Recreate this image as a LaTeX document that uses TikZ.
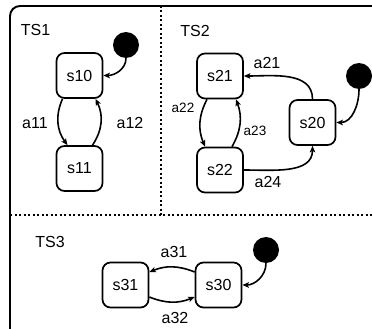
\documentclass[tikz,border=0pt]{standalone}
\usepackage{fontspec}
\setmainfont{Liberation Sans}
\usetikzlibrary{arrows.meta}
\begin{document}
\begin{tikzpicture}[x=1pt,y=-1pt,
  state/.style={draw,line width=1.7pt,rounded corners=8pt,minimum width=46pt,minimum height=45pt,inner sep=0pt,font=\fontsize{16}{19}\selectfont},
  initdot/.style={circle,fill=black,minimum size=26pt,inner sep=0pt},
  lbl/.style={font=\fontsize{16}{19}\selectfont,inner sep=0pt},
  slbl/.style={font=\fontsize{13.5}{16}\selectfont,inner sep=0pt},
  trans/.style={line width=1.6pt,-{Stealth[length=6.5pt,width=5.5pt,inset=1.5pt]}},
  sep/.style={line width=2pt,dash pattern=on 2pt off 2.5pt}]
\useasboundingbox (0,0) rectangle (372,329);
\clip (0,0) rectangle (372,329);
\fill[white] (0,0) rectangle (372,329);
% outer frame
\draw[line width=1.9pt,rounded corners=10pt] (10,6) rectangle (385,342);
% separators
\coordinate (vt) at (161,6);
\coordinate (vb) at (161,215);
\coordinate (hl) at (10,215);
\coordinate (hr) at (372,215);
\draw[sep] (vt) -- (vb);
\draw[sep] (hl) -- (hr);
% labels of regions
\node[lbl] (ts1) at (35.5,30) {TS1};
\node[lbl] (ts2) at (195,31) {TS2};
\node[lbl] (ts3) at (50,242) {TS3};
% TS1
\node[state] (s10) at (79.5,75.5) {s10};
\node[state] (s11) at (79.5,168.5) {s11};
\node[initdot] (d1) at (126,45) {};
\draw[trans] (d1.south) to[out=-90,in=0] (s10.east);
\draw[trans] ([xshift=-17pt]s10.south) to[bend right=30] ([xshift=-12pt]s11.north);
\draw[trans] ([xshift=13pt]s11.north) to[bend right=30] ([xshift=16pt]s10.south);
\node[lbl] (a11) at (35,123) {a11};
\node[lbl] (a12) at (130,123) {a12};
% TS2
\node[state] (s21) at (220,76) {s21};
\node[state] (s22) at (220,170) {s22};
\node[state] (s20) at (312.5,122.5) {s20};
\node[initdot] (d2) at (359,76) {};
\draw[trans] (d2.south) to[out=-90,in=0] (s20.east);
\draw[trans] (s20.north) to[out=90,in=0] (s21.east);
\draw[trans] (s22.east) to[out=0,in=-90] (s20.south);
\draw[trans] ([xshift=-13pt]s21.south) to[bend right=25] ([xshift=-15pt]s22.north);
\draw[trans] ([xshift=12pt]s22.north) to[bend right=25] ([xshift=16pt]s21.south);
\node[lbl] (a21) at (267,63) {a21};
\node[slbl] (a22) at (183,108) {a22};
\node[slbl] (a23) at (255,131) {a23};
\node[lbl] (a24) at (268,182) {a24};
% TS3
\node[state] (s31) at (125.5,285) {s31};
\node[state] (s30) at (218.5,285) {s30};
\node[initdot] (d3) at (266,250) {};
\draw[trans] (d3.south) to[out=-90,in=0] (s30.east);
\draw[trans] ([yshift=13pt]s30.west) to[bend right=22] ([yshift=13pt]s31.east);
\draw[trans] ([yshift=-12pt]s31.east) to[bend right=22] ([yshift=-12pt]s30.west);
\node[lbl] (a31) at (174,252) {a31};
\node[lbl] (a32) at (175,318) {a32};
\end{tikzpicture}
\end{document}
